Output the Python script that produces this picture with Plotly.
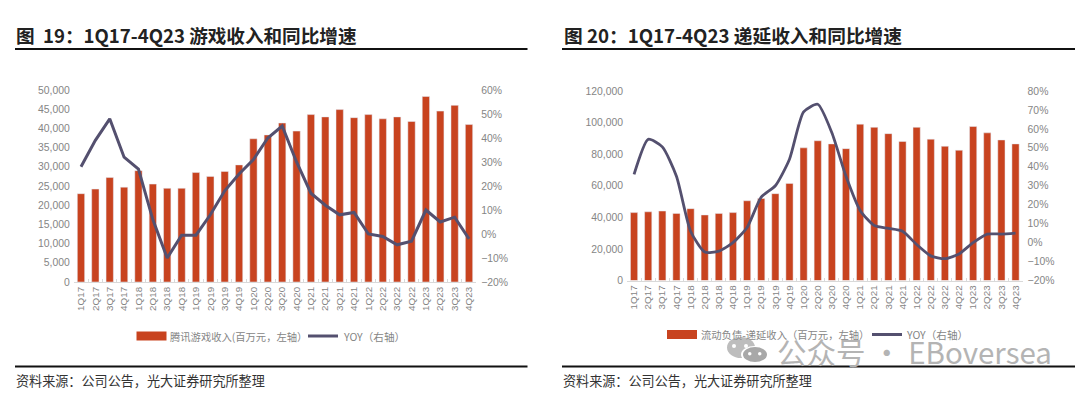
import plotly.graph_objects as go

quarters = [f"{q}Q{y}" for y in range(17, 24) for q in range(1, 5)]
game_rev = [23000, 24200, 27200, 24700, 29000, 25500, 24400, 24400, 28500, 27500, 28800, 30500, 37300, 38300,
            41400, 39300, 43600, 43000, 44900, 42800, 43600, 42500, 43000, 41800, 48300, 44500, 46000, 41000]
game_yoy = [28, 39, 48, 32, 27, 6, -10, -0.5, -0.5, 8, 18, 25, 31, 40, 45, 30, 17, 12, 8, 9, 0, -1, -4.5, -3, 10, 5, 7, -2]
def_rev = [43000, 43500, 44000, 42500, 45500, 41500, 42500, 43000, 50500, 52000, 55000, 61500, 84000, 88500,
           86500, 83500, 99000, 97000, 93000, 88000, 97000, 89500, 85000, 82500, 97500, 93500, 89000, 86500]
def_yoy = [36, 54.5, 50.5, 35, 6, -5, -4.5, 0, 8, 24, 30, 44, 69, 73, 58, 35, 17, 9, 7.5, 6, -1, -7, -8.5, -6, 0, 4.5, 4.5, 5]

W, H = 1080, 394
RED, NAVY, GREY = "#C8431F", "#54506F", "#858585"
CJK = "Noto Sans CJK SC"
TICK = dict(family="Liberation Sans, Arial", size=10.4, color=GREY)
px = lambda v: v / W
py = lambda v: 1 - v / H

fig = go.Figure()
fig.add_bar(x=quarters, y=game_rev, name="腾讯游戏收入(百万元，左轴）", marker_color=RED, xaxis="x", yaxis="y")
fig.add_scatter(x=quarters, y=game_yoy, name="YOY（右轴）", mode="lines", line=dict(color=NAVY, width=3), xaxis="x", yaxis="y2")
fig.add_bar(x=quarters, y=def_rev, name="流动负债-递延收入（百万元，左轴）", marker_color=RED, xaxis="x2", yaxis="y3")
fig.add_scatter(x=quarters, y=def_yoy, name="YOY（右轴）", mode="lines", line=dict(color=NAVY, width=2.8, shape="spline", smoothing=0.6), xaxis="x2", yaxis="y4")

def xax(dom, anchor):
    return dict(domain=dom, anchor=anchor, type="category", tickangle=-90, tickfont=dict(TICK, size=9.8), showgrid=False,
                showline=True, linecolor="#D9D9D9", ticks="inside", tickson="boundaries", ticklen=3, tickcolor="#D9D9D9",
                range=[-0.5, 27.5], automargin=False)
def yl(dom, rng, dt):
    return dict(domain=dom, range=rng, dtick=dt, tickformat=",d", tickfont=TICK, showgrid=False, zeroline=False, showline=False,
                ticks="", automargin=False, ticklabelstandoff=3)
def yr(dom, over, anchor, rng):
    return dict(domain=dom, overlaying=over, anchor=anchor, side="right", range=rng, dtick=10, ticksuffix="%", tickfont=TICK,
                showgrid=False, zeroline=False, showline=False, ticks="", automargin=False, ticklabelstandoff=4)

dom_l = [py(282), py(90)]
dom_r = [py(280.5), py(91)]
shapes, ann = [], []

def line(x0, x1, y, color="#111", width=2):
    shapes.append(dict(type="line", xref="paper", yref="paper", x0=px(x0), x1=px(x1), y0=py(y), y1=py(y), line=dict(color=color, width=width)))
def text(x, y, s, size, color, family=CJK, bold=False):
    ann.append(dict(xref="paper", yref="paper", x=px(x), y=py(y), text=f"<b>{s}</b>" if bold else s, showarrow=False, xanchor="left",
                    yanchor="middle", font=dict(family=family, size=size, color=color), align="left"))
def swatch(x0, x1, y0, y1):
    shapes.append(dict(type="rect", xref="paper", yref="paper", x0=px(x0), x1=px(x1), y0=py(y0), y1=py(y1), fillcolor=RED, line_width=0))
def dot(x0, x1, y0, y1, c):
    shapes.append(dict(type="circle", xref="paper", yref="paper", x0=px(x0), x1=px(x1), y0=py(y0), y1=py(y1), fillcolor=c, line_width=0))

line(15, 527.5, 49); line(562, 1075, 49); line(15, 527.5, 366.5); line(562, 1075, 366.5)
text(14, 34, "图\u00a0\u00a019：1Q17-4Q23 游戏收入和同比增速", 18.6, "#222", bold=True)
text(562, 34, "图 20：1Q17-4Q23 递延收入和同比增速", 18.7, "#222", bold=True)
text(14, 380, "资料来源：公司公告，光大证券研究所整理", 13.1, "#333")
text(561, 380, "资料来源：公司公告，光大证券研究所整理", 13.1, "#333")

swatch(136.5, 166.5, 331.5, 340.5); text(168, 336, fig.data[0].name, 10.3, GREY)
line(308, 338, 336, NAVY, 3); text(341, 336, fig.data[1].name, 10.6, GREY)
swatch(667, 697, 330, 339); text(699, 334.5, fig.data[2].name, 10.3, GREY)
line(872, 902, 334.5, NAVY, 3); text(904, 334.5, fig.data[3].name, 10.6, GREY)

# Watermark: two speech bubbles with eyes, then the account name
dot(727, 755, 337, 358, "#BDBDBD")
dot(732, 736, 344, 348, "#FFFFFF"); dot(744, 748, 344, 348, "#FFFFFF")
dot(741, 768, 346, 363, "#FFFFFF")
dot(743, 767, 347, 362, "#A8A8A8")
dot(748, 751.5, 352, 355.5, "#FFFFFF"); dot(758, 761.5, 352, 355.5, "#FFFFFF")
text(775, 351, "公众号 · EBoversea", 29.5, "#B4B4B4")

fig.update_layout(
    width=W, height=H, margin=dict(l=0, r=0, t=0, b=0), paper_bgcolor="white", plot_bgcolor="white",
    showlegend=False, bargap=0.49, barmode="overlay", shapes=shapes, annotations=ann,
    xaxis=xax([px(73.8), px(476.2)], "y"), yaxis=yl(dom_l, [0, 50000], 5000), yaxis2=yr(dom_l, "y", "x", [-20, 60]),
    xaxis2=xax([px(627), px(1022.6)], "y3"), yaxis3=dict(yl(dom_r, [0, 120000], 20000), anchor="x2"),
    yaxis4=yr(dom_r, "y3", "x2", [-20, 80]),
)
fig.write_html("out.html", config=dict(displayModeBar=False), post_script="document.body.style.margin='0';document.body.style.overflow='hidden';")
